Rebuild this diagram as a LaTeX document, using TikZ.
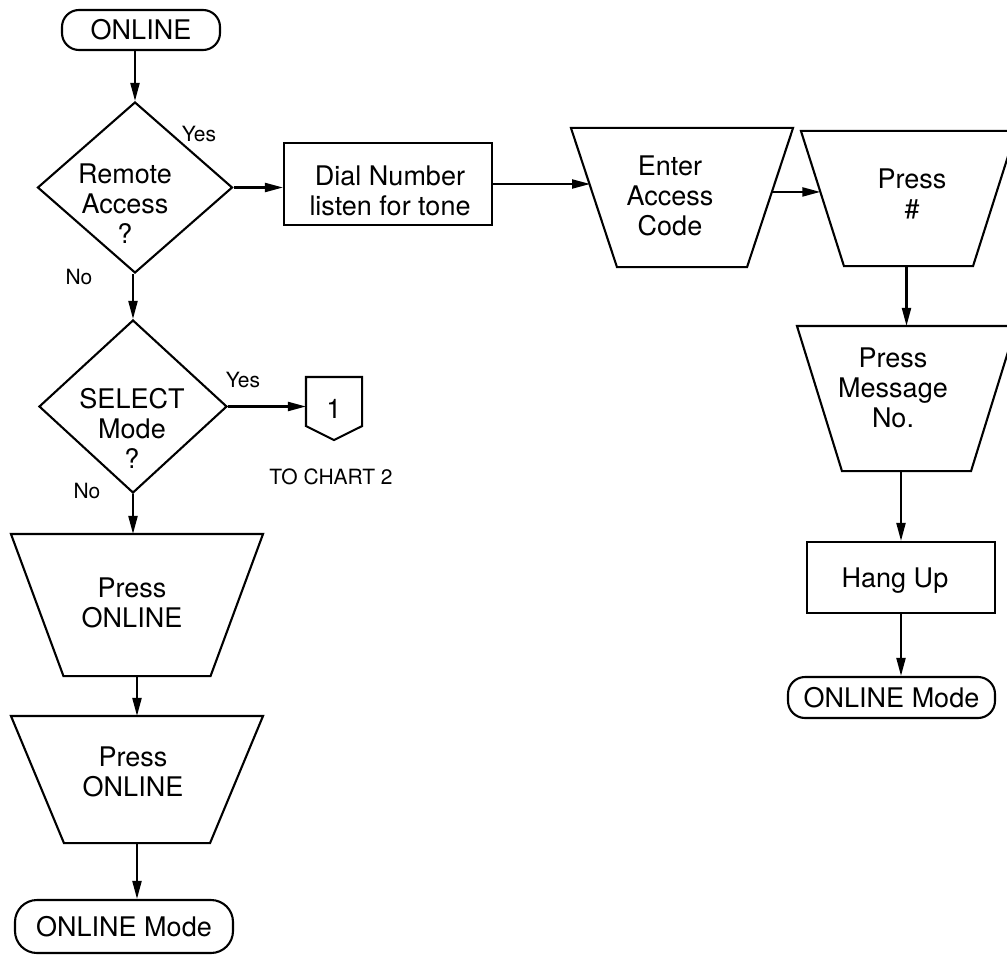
\documentclass[tikz,border=0pt]{standalone}
\usepackage{fontspec}
\setmainfont{TeX Gyre Heros}
\usetikzlibrary{shapes.geometric,arrows.meta,calc}
\tikzset{
  txt/.style={font=\fontsize{27}{30}\selectfont, align=center, inner sep=0pt},
  lbl/.style={font=\fontsize{21}{24}\selectfont, inner sep=0pt},
  term/.style={draw, rectangle, rounded corners=17pt, inner sep=0pt, txt},
  procbox/.style={draw, rectangle, inner sep=0pt},
  decision/.style={draw, diamond, inner sep=0pt},
  manualframe/.style={rectangle, inner sep=0pt},
  connbox/.style={rectangle, inner sep=0pt, txt},
  arr/.style={-{Triangle[length=18pt,width=9pt]}, line width=2.1pt},
}
% draw an inverted trapezoid inside a named frame node: #1 node, #2 inset
\newcommand{\trapdraw}[2]{\draw (#1.north west) -- (#1.north east) -- ([xshift=-#2]#1.south east) -- ([xshift=#2]#1.south west) -- cycle;}
\begin{document}
\begin{tikzpicture}[x=1pt,y=-1pt,line width=2.1pt]
\useasboundingbox (0,0) rectangle (1007,955);
\clip (0,0) rectangle (1007,955);

% left column
\node[term, minimum width=158pt, minimum height=40pt] (start) at (141,30) {ONLINE};
\node[decision, minimum width=195pt, minimum height=171pt] (d1) at (135,187.5) {};
\node[txt] (d1t) at (125,204) {Remote\\Access\\?};
\node[lbl] (y1) at (199,134) {Yes};
\node[lbl] (n1) at (79,277) {No};

\node[decision, minimum width=188pt, minimum height=173pt] (d2) at (133,406.5) {};
\node[txt] (d2t) at (132,428) {SELECT\\Mode\\?};
\node[lbl] (y2) at (243,380) {Yes};
\node[lbl] (n2) at (87,491) {No};

\node[connbox, minimum width=54pt, minimum height=61pt] (c1) at (334,408.5) {1};
\draw (c1.north west) -- (c1.north east) -- ([yshift=14pt]c1.south east) -- (c1.south) -- ([yshift=14pt]c1.south west) -- cycle;
\node[lbl] (tochart) at (331,477) {TO CHART 2};

\node[manualframe, minimum width=250pt, minimum height=140pt] (p1) at (137,605) {};
\trapdraw{p1}{52.5pt}
\node[txt] (p1t) at (132,603) {Press\\ONLINE};
\node[manualframe, minimum width=250pt, minimum height=125pt] (p2) at (137,779.5) {};
\trapdraw{p2}{53pt}
\node[txt] (p2t) at (133,772) {Press\\ONLINE};
\node[term, minimum width=218pt, minimum height=53pt, rounded corners=22pt] (bterm) at (124,926.5) {ONLINE Mode};

% top row and right column
\node[procbox, minimum width=208pt, minimum height=82pt] (dial) at (388,184) {};
\node[txt] (dialt) at (390,191) {Dial Number\\listen for tone};
\node[manualframe, minimum width=220pt, minimum height=137pt] (enter) at (682,197.5) {};
\trapdraw{enter}{46pt}
\node[txt] (entert) at (670,196) {Enter\\Access\\Code};
\node[manualframe, minimum width=213pt, minimum height=133pt] (pound) at (908.5,198.5) {};
\trapdraw{pound}{43pt}
\node[txt] (poundt) at (912,194) {Press\\\#};
\node[manualframe, minimum width=217pt, minimum height=143pt] (pmsg) at (906.5,398.5) {};
\trapdraw{pmsg}{45pt}
\node[txt] (pmsgt) at (893,388) {Press\\Message\\No.};
\node[procbox, minimum width=188pt, minimum height=71pt] (hang) at (901,577.5) {};
\node[txt] (hangt) at (895,581) {Hang Up};
\node[term, minimum width=207pt, minimum height=41pt] (rterm) at (891.5,697.5) {ONLINE Mode};

% points on the slanted sides
\coordinate (enterL) at ($(enter.north west)!0.416!([xshift=46pt]enter.south west)$);
\coordinate (enterR) at ($(enter.north east)!0.46!([xshift=-46pt]enter.south east)$);
\coordinate (poundL) at ($(pound.north west)!0.451!([xshift=43pt]pound.south west)$);

% connectors
\draw[arr] (start.south -| d1.north) -- (d1.north);
\draw[arr] (d2.north |- d1.south) -- (d2.north);
\draw[arr] (d2.south) -- (d2.south |- p1.north);
\draw[arr] (p1.south) -- (p2.north);
\draw[arr] (p2.south) -- (p2.south |- bterm.north);
\draw[arr] (d1.east) -- (d1.east -| dial.west);
\draw[arr] (d2.east) -- (d2.east -| c1.west);
\draw[arr] (dial.east) -- (dial.east -| enterL);
\draw[arr] (enterR) -- (enterR -| poundL);
\draw[arr] (pound.south -| pmsg.north) -- (pmsg.north);
\draw[arr] (pmsg.south -| hang.north) -- (hang.north);
\draw[arr] (hang.south) -- (hang.south |- rterm.north);
\end{tikzpicture}
\end{document}
